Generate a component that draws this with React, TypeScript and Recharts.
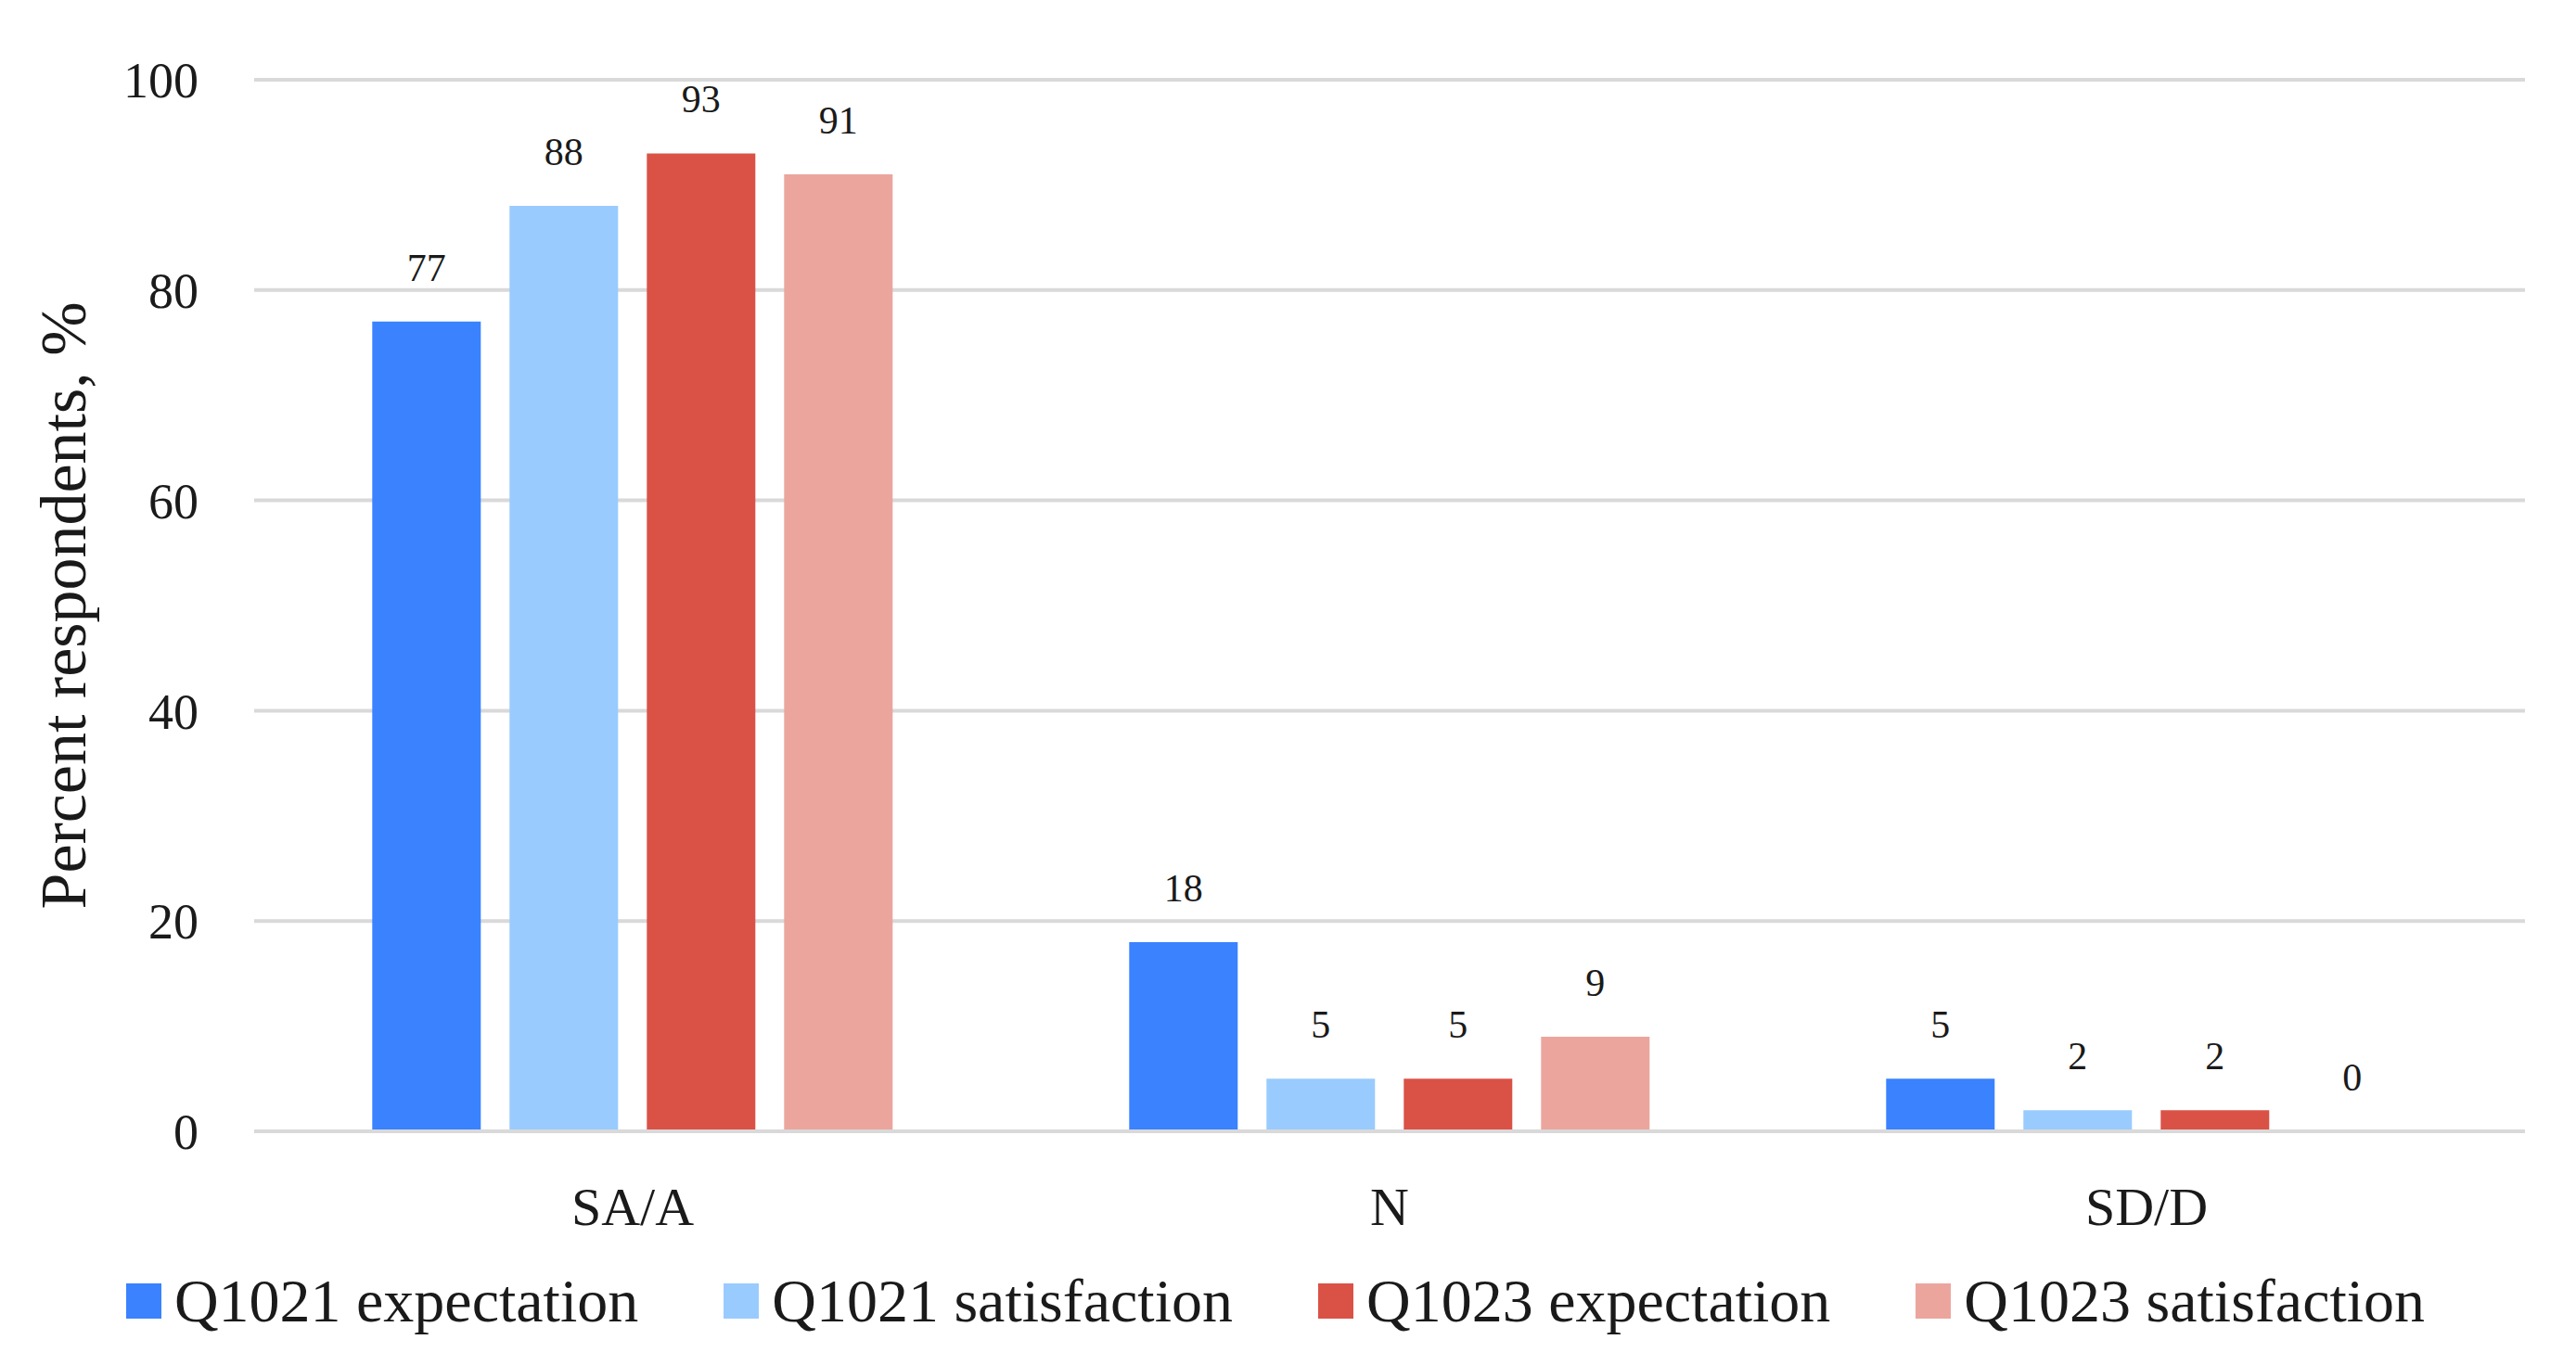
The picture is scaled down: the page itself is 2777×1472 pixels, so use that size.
import React from 'react'
import { BarChart, Bar, XAxis, YAxis, CartesianGrid, Legend, LabelList } from 'recharts'

const categories = ['SA/A', 'N', 'SD/D']
const q1021Expectation = [77, 18, 5]
const q1021Satisfaction = [88, 5, 2]
const q1023Expectation = [93, 5, 2]
const q1023Satisfaction = [91, 9, 0]
const yTicks = [0, 20, 40, 60, 80, 100]

const series = [
  { key: 'q1021e', name: 'Q1021 expectation', values: q1021Expectation, color: '#3A82FE' },
  { key: 'q1021s', name: 'Q1021 satisfaction', values: q1021Satisfaction, color: '#9ACBFE' },
  { key: 'q1023e', name: 'Q1023 expectation', values: q1023Expectation, color: '#DA5246' },
  { key: 'q1023s', name: 'Q1023 satisfaction', values: q1023Satisfaction, color: '#EBA59D' },
]

const data = categories.map((category, i) => {
  const row: Record<string, string | number> = { category }
  series.forEach((s) => {
    row[s.key] = s.values[i]
  })
  return row
})

const FONT = "'Liberation Serif', 'Times New Roman', serif"
const TEXT = '#1a1a1a'
const GRID = '#d9d9d9'

// legend drawn as flex row so spacing can match the original
function renderLegend(props: any) {
  const { payload = [] } = props
  return (
    <div style={{ display: 'flex', justifyContent: 'center', alignItems: 'center', gap: 92, height: 100, paddingLeft: 28 }}>
      {payload.map((entry: any) => (
        <div key={entry.value} style={{ display: 'flex', alignItems: 'center' }}>
          <span style={{ display: 'inline-block', width: 38, height: 38, background: entry.color, marginRight: 14 }} />
          <span style={{ fontSize: 66, color: TEXT, lineHeight: '100px', fontFamily: FONT }}>{entry.value}</span>
        </div>
      ))}
    </div>
  )
}

// a zero value still needs its "0" label, so give it a hairline height
const tinyForZero = (value: any) => (value === 0 ? 0.3 : 0)

export default function App() {
  return (
    <div style={{ position: 'absolute', left: 0, top: 0, width: 2777, height: 1472, background: '#fff', fontFamily: FONT }}>
      <BarChart
        width={2777}
        height={1472}
        data={data}
        margin={{ top: 86, right: 55, bottom: 19, left: 0 }}
        barCategoryGap="15.6%"
        barGap={31}
      >
        <CartesianGrid vertical={false} stroke={GRID} strokeWidth={4} />
        <XAxis
          dataKey="category"
          axisLine={{ stroke: GRID, strokeWidth: 4 }}
          tickLine={false}
          tickSize={0}
          tickMargin={60}
          height={133}
          tick={{ fontSize: 58, fill: TEXT, fontFamily: FONT }}
        />
        <YAxis
          domain={[0, 100]}
          ticks={yTicks}
          axisLine={false}
          tickLine={false}
          tickSize={0}
          tickMargin={60}
          width={274}
          tick={{ fontSize: 54, fill: TEXT, fontFamily: FONT }}
          label={{
            value: 'Percent respondents, %',
            angle: -90,
            position: 'insideLeft',
            offset: 67,
            style: { textAnchor: 'middle', fontSize: 70, fill: TEXT, fontFamily: FONT },
          }}
        />
        <Legend verticalAlign="bottom" content={renderLegend} />
        {series.map((s) => (
          <Bar
            key={s.key}
            dataKey={s.key}
            name={s.name}
            fill={s.color}
            minPointSize={tinyForZero}
            isAnimationActive={false}
          >
            <LabelList
              dataKey={s.key}
              position="top"
              offset={44}
              style={{ fontSize: 42, fill: TEXT, fontFamily: FONT }}
            />
          </Bar>
        ))}
      </BarChart>
    </div>
  )
}
